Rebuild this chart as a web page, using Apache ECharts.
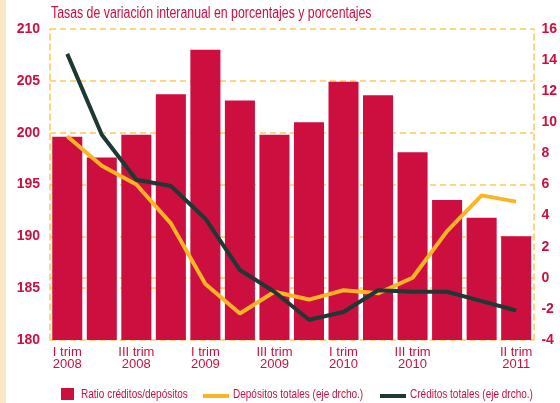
<!DOCTYPE html>
<html>
<head>
<meta charset="utf-8">
<script src="https://cdn.jsdelivr.net/npm/echarts@6/dist/echarts.min.js"></script>
<style>
  html, body { margin: 0; padding: 0; background: #fff; }
  #chart { width: 560px; height: 403px; }
</style>
</head>
<body>
<div id="chart"></div>
<script>
  // trimestres
  const categories = [
    'I trim\n2008', 'II trim\n2008', 'III trim\n2008', 'IV trim\n2008',
    'I trim\n2009', 'II trim\n2009', 'III trim\n2009', 'IV trim\n2009',
    'I trim\n2010', 'II trim\n2010', 'III trim\n2010', 'IV trim\n2010',
    'I trim\n2011', 'II trim\n2011'
  ]
  const shownLabels = [0, 2, 4, 6, 8, 10, 13]

  // ratio créditos/depósitos (eje izq.)
  const ratio = [199.6, 197.6, 199.8, 203.7, 208.0, 203.1, 199.8, 201.0, 204.9, 203.6, 198.1, 193.5, 191.8, 190.0]
  // depósitos totales (eje drcho.)
  const depositos = [9.1, 7.2, 6.0, 3.5, -0.4, -2.3, -0.9, -1.4, -0.8, -1.0, 0.0, 3.0, 5.3, 4.9]
  // créditos totales (eje drcho.)
  const creditos = [14.4, 9.2, 6.3, 5.9, 3.8, 0.5, -0.9, -2.7, -2.2, -0.8, -0.9, -0.9, -1.5, -2.1]

  const leftTicks = { min: 180, max: 210, interval: 5 }
  const rightTicks = { min: -4, max: 16, interval: 2 }

  const titleText = 'Tasas de variación interanual en porcentajes y porcentajes'
  const names = ['Ratio créditos/depósitos', 'Depósitos totales (eje drcho.)', 'Créditos totales (eje drcho.)']

  const crimson = '#cc0f3f'
  const gold = '#fbb424'
  const dark = '#1e3834'
  const gridColor = '#fdc95c'
  const font = '"Liberation Sans", sans-serif'
  const narrow = 0.77 // la fuente original es condensada

  const chart = echarts.init(document.getElementById('chart'))

  const label = (text, x, y, size) => ({
    type: 'text', x: x, y: y, scaleX: narrow, silent: true,
    style: { text: text, fill: crimson, font: size + 'px ' + font, verticalAlign: 'middle' }
  })

  // leyenda dibujada a mano para poder estrechar el texto
  const legendGraphics = [
    { type: 'rect', shape: { x: 61, y: 388, width: 13, height: 12 }, style: { fill: crimson }, silent: true },
    label(names[0], 81, 394, 13),
    { type: 'rect', shape: { x: 203, y: 394, width: 26, height: 4 }, style: { fill: gold }, silent: true },
    label(names[1], 233, 394, 13),
    { type: 'rect', shape: { x: 380, y: 394, width: 26, height: 4 }, style: { fill: dark }, silent: true },
    label(names[2], 410, 394, 13)
  ]

  const option = {
    animation: false,
    textStyle: { fontFamily: font },
    graphic: [
      { type: 'rect', shape: { x: 0, y: 0, width: 6, height: 403 }, style: { fill: '#fde8c3' }, silent: true },
      label(titleText, 51, 13.5, 16)
    ].concat(legendGraphics),
    grid: { left: 50, right: 25, top: 29, bottom: 63 },
    xAxis: {
      type: 'category',
      data: categories,
      axisTick: { show: false },
      axisLine: { lineStyle: { color: gridColor, width: 1.5, type: [6, 4] } },
      axisLabel: {
        interval: (i) => shownLabels.includes(i),
        color: crimson,
        fontFamily: font,
        fontSize: 13,
        lineHeight: 12,
        margin: 6
      }
    },
    yAxis: [
      {
        type: 'value',
        min: leftTicks.min, max: leftTicks.max, interval: leftTicks.interval,
        axisLine: { show: true, lineStyle: { color: gridColor, width: 1.5, type: [6, 4] } },
        axisTick: { show: false },
        axisLabel: { color: crimson, fontWeight: 'bold', fontSize: 14, fontFamily: font, margin: 10 },
        splitLine: { lineStyle: { color: gridColor, width: 1.5, type: [6, 4] } }
      },
      {
        type: 'value',
        position: 'right',
        alignTicks: false,
        min: rightTicks.min, max: rightTicks.max, interval: rightTicks.interval,
        axisLine: { show: true, lineStyle: { color: gridColor, width: 1.5, type: [6, 4] } },
        axisTick: { show: false },
        axisLabel: { color: crimson, fontWeight: 'bold', fontSize: 14, fontFamily: font, margin: 8 },
        splitLine: { show: false }
      }
    ],
    series: [
      {
        name: names[0],
        type: 'bar',
        data: ratio,
        barCategoryGap: '13%',
        itemStyle: { color: crimson }
      },
      {
        name: names[1],
        type: 'line',
        yAxisIndex: 1,
        data: depositos,
        symbol: 'none',
        lineStyle: { color: gold, width: 4 },
        itemStyle: { color: gold }
      },
      {
        name: names[2],
        type: 'line',
        yAxisIndex: 1,
        data: creditos,
        symbol: 'none',
        lineStyle: { color: dark, width: 4 },
        itemStyle: { color: dark }
      }
    ]
  }

  chart.setOption(option)
</script>
</body>
</html>
